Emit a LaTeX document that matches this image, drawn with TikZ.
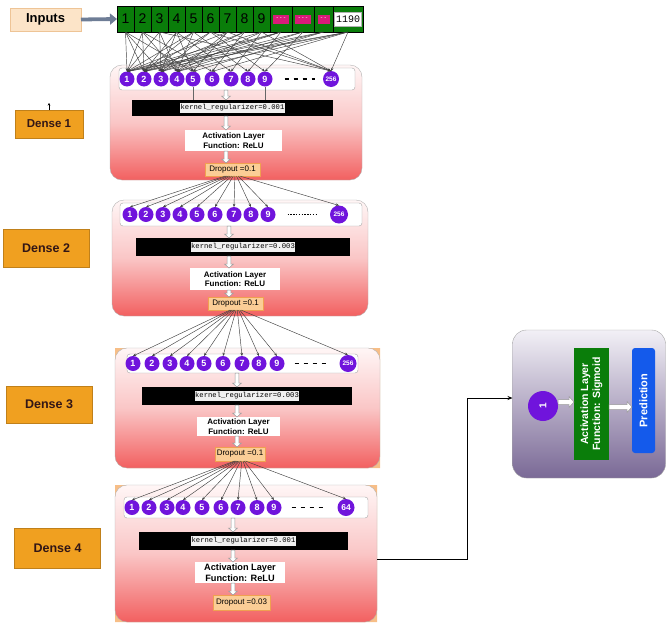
\documentclass[tikz,border=0pt]{standalone}
\usepackage{fontspec}
\setmainfont{Liberation Sans}
\setmonofont{Liberation Mono}
\usetikzlibrary{arrows.meta,calc}
\definecolor{ngreen}{RGB}{10,125,10}
\definecolor{nmag}{RGB}{216,27,122}
\definecolor{npurp}{RGB}{112,20,220}
\definecolor{dorange}{RGB}{240,160,32}
\definecolor{peach}{RGB}{252,228,200}
\definecolor{peachb}{RGB}{238,196,150}
\definecolor{salmon}{RGB}{242,96,96}
\definecolor{salmonm}{RGB}{250,198,198}
\definecolor{salmont}{RGB}{255,246,246}
\definecolor{dropf}{RGB}{251,205,150}
\definecolor{dropb}{RGB}{240,160,80}
\definecolor{obox}{RGB}{122,105,150}
\definecolor{oboxt}{RGB}{242,240,246}
\definecolor{pblue}{RGB}{20,90,235}
\definecolor{arrgray}{RGB}{110,125,150}
\definecolor{bgor}{RGB}{247,190,135}
\definecolor{dtext}{RGB}{50,22,22}
\begin{document}
\begin{tikzpicture}[x=1pt,y=-1pt,
  every node/.style={inner sep=0pt,outer sep=0pt},
  fan/.style={draw=black!75, line width=0.45pt, -{Stealth[length=3.2pt,width=2.6pt]}},
  holv/.style={draw=gray!80, fill=white, line width=0.5pt,
    to path={($(\tikztostart)+(-1.8,0)$) -- ($(\tikztotarget)+(-1.8,-4)$) -- ($(\tikztotarget)+(-4.5,-4)$) -- (\tikztotarget)
      -- ($(\tikztotarget)+(4.5,-4)$) -- ($(\tikztotarget)+(1.8,-4)$) -- ($(\tikztostart)+(1.8,0)$) -- cycle}},
  holh/.style={draw=gray!80, fill=white, line width=0.5pt,
    to path={($(\tikztostart)+(0,-2.5)$) -- ($(\tikztotarget)+(-5,-2.5)$) -- ($(\tikztotarget)+(-5,-5.5)$) -- (\tikztotarget)
      -- ($(\tikztotarget)+(-5,5.5)$) -- ($(\tikztotarget)+(-5,2.5)$) -- ($(\tikztostart)+(0,2.5)$) -- cycle}},
  dbox/.style={draw=gray!60, rounded corners=12, top color=salmont, bottom color=salmon, middle color=salmonm},
  rowbox/.style={draw=gray!70, fill=white, rounded corners=3},
  neu/.style={circle, fill=npurp, text=white, minimum size=15, font=\bfseries\fontsize{9}{9}\selectfont},
  big/.style={font=\bfseries\fontsize{6.5}{6.5}\selectfont},
  kbar/.style={fill=black},
  ktext/.style={fill=gray!12, text=black, font=\ttfamily\fontsize{7.2}{7.2}\selectfont, inner xsep=0.5pt, inner ysep=1.5pt},
  actbox/.style={fill=white, align=center, font=\bfseries\fontsize{8}{9.6}\selectfont},
  dropbox/.style={fill=dropf, draw=dropb, font=\fontsize{8}{8}\selectfont},
  dlabel/.style={fill=dorange, draw=dorange!80!black, line width=0.3pt, text=dtext, font=\bfseries\fontsize{12.5}{12.5}\selectfont},
  cell/.style={draw=black, line width=0.5pt, fill=ngreen, minimum height=26, font=\fontsize{14}{14}\selectfont},
  magbox/.style={fill=nmag, minimum height=9, text=white, font=\fontsize{6}{6}\selectfont},
]
\useasboundingbox (0,0) rectangle (667,624);

% ---------------- Inputs ----------------
\node[fill=peach, draw=peachb, minimum width=71, minimum height=23, font=\bfseries\fontsize{13}{13}\selectfont] (inp) at (45.5,19.5) {Inputs};
\foreach \i in {1,...,9} \node[cell, minimum width=17] (c\i) at ({117+17*(\i-0.5)},19) {\i};
\node[cell, minimum width=22] (ca) at (281,19) {};
\node[cell, minimum width=22] (cb) at (303,19) {};
\node[cell, minimum width=19] (cc) at (323.5,19) {};
\node[cell, minimum width=30] (cd) at (348,19) {};
\node[magbox, minimum width=16] at (ca) {- - -};
\node[magbox, minimum width=16] at (cb) {- - -};
\node[magbox, minimum width=12] at (cc) {- -};
\node[fill=white, draw=gray!60, minimum width=27, minimum height=14, font=\ttfamily\fontsize{10}{10}\selectfont] at (cd) {1190};
\draw[arrgray, line width=3.8pt, -{Triangle[length=7pt,width=11pt]}] (inp.east) -- (c1.west);

% ---------------- background orange rectangles (top and right only) ----------------
\fill[bgor] (115,348) -- (380,348) -- (380,468) -- (140,468) [rounded corners=12] -- (115,468) [sharp corners] -- cycle;
\fill[bgor] (115,485) -- (377,485) -- (377,622) -- (140,622) -- (115,622) -- cycle;

% ---------------- Dense boxes ----------------
\node[dbox, minimum width=252, minimum height=115] (D1) at (236,122.5) {};
\node[dbox, minimum width=256, minimum height=116] (D2) at (240,258) {};
\node[dbox, minimum width=265, minimum height=120] (D3) at (247.5,408) {};
\node[dbox, minimum width=262, minimum height=137] (D4) at (246,553.5) {};

% rows
\node[rowbox, minimum width=236, minimum height=22] (R1) at (237,79) {};
\node[rowbox, minimum width=242, minimum height=23] (R2) at (241,214.5) {};
\node[rowbox, minimum width=231, minimum height=19] (R3) at (242.5,363.5) {};
\node[rowbox, minimum width=244, minimum height=21] (R4) at (246,507.5) {};

% neurons
\foreach \x [count=\k] in {127,144,161,177,193,212,231,248,265} \node[neu] (La\k) at (\x,79) {\k};
\node[neu, big, minimum size=16] (La10) at (331,79) {256};
\foreach \x [count=\k] in {130,146,163,180,197,215,234,251,268} \node[neu] (Lb\k) at (\x,214.5) {\k};
\node[neu, big, minimum size=18] (Lb10) at (339,214.5) {256};
\foreach \x [count=\k] in {133,152,170,187,204,223,242,259,277} \node[neu] (Lc\k) at (\x,363.5) {\k};
\node[neu, big, minimum size=17] (Lc10) at (348,363.5) {256};
\foreach \x [count=\k] in {132,149,167,183,202,221,238,257,274} \node[neu] (Ld\k) at (\x,507.5) {\k};
\node[neu, minimum size=17, font=\bfseries\fontsize{8.5}{8.5}\selectfont] (Ld10) at (346,507.5) {64};

% dashes in rows
\draw[line width=1.5pt, dash pattern=on 4.5pt off 4.5pt] ($(La9.east)+(12,0)$) -- ($(La10.west)+(-8,0)$);
\draw[line width=0.6pt, dash pattern=on 1.4pt off 1.4pt] ($(Lb9.east)+(12,0)$) -- ($(Lb10.west)+(-14,0)$);
\draw[line width=1.5pt, dash pattern=on 4.5pt off 4.5pt] ($(Lc9.east)+(10,0)$) -- ($(Lc10.west)+(-12,0)$);
\draw[line width=1.5pt, dash pattern=on 4.5pt off 4.5pt] ($(Ld9.east)+(10,0)$) -- ($(Ld10.west)+(-10,0)$);

% kernel bars
\node[kbar, minimum width=201, minimum height=16] (K1) at (232.5,108) {};
\node[ktext] at (K1) {kernel\_regularizer=0.001};
\node[kbar, minimum width=214, minimum height=18] (K2) at (243,247) {};
\node[ktext] at (K2) {kernel\_regularizer=0.003};
\node[kbar, minimum width=210, minimum height=18] (K3) at (247,396) {};
\node[ktext] at (K3) {kernel\_regularizer=0.003};
\node[kbar, minimum width=209, minimum height=18] (K4) at (243.5,541) {};
\node[ktext] at (K4) {kernel\_regularizer=0.001};

% activation boxes
\node[actbox, minimum width=97, minimum height=21] (A1) at (233.5,140.5) {Activation Layer\\Function: ReLU};
\node[actbox, minimum width=90, minimum height=22] (A2) at (235,279) {Activation Layer\\Function: ReLU};
\node[actbox, minimum width=83, minimum height=19] (A3) at (238.5,426.5) {Activation Layer\\Function: ReLU};
\node[actbox, minimum width=90, minimum height=21, font=\bfseries\fontsize{9.2}{10.5}\selectfont] (A4) at (240,572.5) {Activation Layer\\Function: ReLU};

% dropout boxes
\node[dropbox, minimum width=55, minimum height=13] (P1) at (232.5,169.5) {Dropout =0.1};
\node[dropbox, minimum width=55, minimum height=13] (P2) at (235.5,303.5) {Dropout =0.1};
\node[dropbox, minimum width=50, minimum height=14] (P3) at (240,454) {Dropout =0.1};
\node[dropbox, minimum width=57, minimum height=15] (P4) at (241.5,602.5) {Dropout =0.03};

% hollow arrows inside dense blocks
\coordinate (h1) at (226,0);
\coordinate (h2) at (229,0);
\coordinate (h3) at (237,0);
\coordinate (h4) at (233,0);
\foreach \n in {1,2,3,4}{
  \draw[holv] (h\n |- R\n.south) to (h\n |- K\n.north);
  \draw[holv] (h\n |- K\n.south) to (h\n |- A\n.north);
  \draw[holv] (h\n |- A\n.south) to (h\n |- P\n.north);
}
\draw[gray!80!black, line width=0.4pt] (La5.south) -- (La5.south |- K1.north);
\draw[gray!80!black, line width=0.4pt] (La9.south) -- (La9.south |- K1.north);

% ---------------- fans ----------------
\foreach \s/\t in {1/1,1/2,1/3,1/5, 2/1,2/2,2/4,2/6, 3/1,3/3,3/4,3/10, 4/2,4/3,4/5,4/7,
  5/1,5/2,5/4,5/8, 6/2,6/3,6/9,6/10, 7/1,7/4,7/5,7/10, 8/2,8/3,8/6, 9/1,9/4,9/7,9/10,
  a/1,a/2,a/3,a/8, b/2,b/4,b/9, c/1,c/3,c/5, d/1,d/2,d/4,d/6,d/10}
  \draw[fan] (c\s.south) -- (La\t.north);
\foreach \k in {1,...,10} \draw[fan] ($(P1.south)+({(\k-5.5)*1.6},0)$) -- (Lb\k.north);
\foreach \k in {1,...,10} \draw[fan] ($(P2.south)+({(\k-5.5)*1.2},0)$) -- (Lc\k.north);
\foreach \k in {1,...,10} \draw[fan] ($(P3.south)+({(\k-5.5)*1.2},0)$) -- (Ld\k.north);

% ---------------- Dense labels ----------------
\node[dlabel, minimum width=68, minimum height=28, font=\bfseries\fontsize{11.5}{11.5}\selectfont] (T1) at (49,124) {Dense 1};
\node[dlabel, minimum width=86, minimum height=38] (T2) at (46,248) {Dense 2};
\node[dlabel, minimum width=86, minimum height=37] (T3) at (49,404.5) {Dense 3};
\node[dlabel, minimum width=86, minimum height=40] (T4) at (57.5,548) {Dense 4};
\draw[black, line width=0.5pt, -{Stealth[length=2.5pt,width=2.5pt]}] (T1.north) -- ($(T1.north)+(0,-7)$);

% ---------------- Output block ----------------
\node[draw=gray!70, rounded corners=14, top color=oboxt, bottom color=obox, minimum width=153, minimum height=148] (O) at (589,404) {};
\node[neu, minimum size=30, rotate=90, font=\bfseries\fontsize{10}{10}\selectfont] (on) at (543,406) {1};
\node[fill=ngreen, rotate=90, minimum width=112, minimum height=35, align=center, text=white, font=\bfseries\fontsize{10.5}{12}\selectfont] (og) at (591.5,404) {Activation Layer\\Function: Sigmoid};
\node[fill=pblue, rounded corners=3, rotate=90, minimum width=105, minimum height=23, text=white, font=\bfseries\fontsize{11}{11}\selectfont] (ob) at (643.5,400.5) {Prediction};
\path ($(on.south)+(0,-4)$) coordinate (o1);
\path ($(og.south)+(0,3)$) coordinate (o2);
\draw[holh] (o1) to (o1 -| og.north);
\draw[holh] (o2) to (o2 -| ob.north);

% connector Dense 4 -> output
\coordinate (bend) at (467,398);
\draw[black, line width=0.7pt, -{Stealth[length=5pt,width=4pt]}] ($(D4.east)+(0,6)$) -| (bend) -- (bend -| O.west);
\end{tikzpicture}
\end{document}
